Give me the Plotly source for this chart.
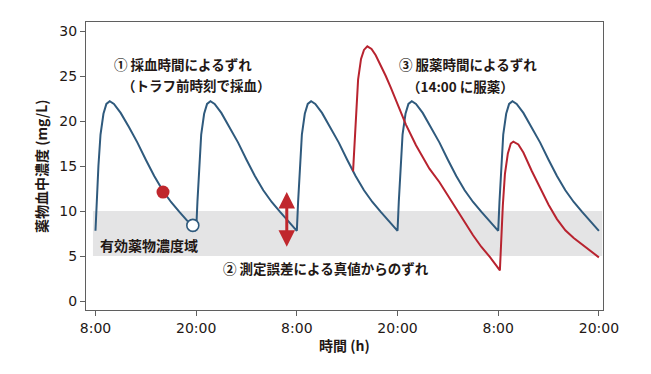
import plotly.graph_objects as go

# ---- data (hours from 8:00 day 1, concentration mg/L) ----
blue_time = [
    0, 0.15, 0.35, 0.6, 0.95, 1.3, 1.7, 2.2, 3, 4, 5, 6, 7, 8, 9, 10, 11,
    12, 12.15, 12.35, 12.6, 12.95, 13.3, 13.7, 14.2, 15, 16, 17, 18, 19, 20, 21, 22, 23,
    24, 24.15, 24.35, 24.6, 24.95, 25.3, 25.7, 26.2, 27, 28, 29, 30, 31, 32, 33, 34, 35,
    36, 36.15, 36.35, 36.6, 36.95, 37.3, 37.7, 38.2, 39, 40, 41, 42, 43, 44, 45, 46, 47,
    48, 48.15, 48.35, 48.6, 48.95, 49.3, 49.7, 50.2, 51, 52, 53, 54, 55, 56, 57, 58, 59, 60,
]
blue_value = [
    7.8, 11.0, 15.0, 18.5, 20.8, 21.9, 22.2, 21.9, 20.9, 19.3, 17.6, 15.7, 13.9, 12.3, 11.0, 9.9, 8.8,
    7.8, 11.0, 15.0, 18.5, 20.8, 21.9, 22.2, 21.9, 20.9, 19.3, 17.6, 15.7, 13.9, 12.3, 11.0, 9.9, 8.8,
    7.8, 11.0, 15.0, 18.5, 20.8, 21.9, 22.2, 21.9, 20.9, 19.3, 17.6, 15.7, 13.9, 12.3, 11.0, 9.9, 8.8,
    7.8, 11.0, 15.0, 18.5, 20.8, 21.9, 22.2, 21.9, 20.9, 19.3, 17.6, 15.7, 13.9, 12.3, 11.0, 9.9, 8.8,
    7.8, 11.0, 15.0, 18.5, 20.8, 21.9, 22.2, 21.9, 20.9, 19.3, 17.6, 15.7, 13.9, 12.3, 11.0, 9.9, 8.8, 7.8,
]

red_time = [
    30.7, 30.85, 31.05, 31.3, 31.65, 32.0, 32.4, 32.9, 33.4, 34.0, 34.6, 35.2, 35.8, 37.0,
    38.2, 39.0, 39.8, 41.0, 42.0, 43.0, 44.0, 45.0, 46.0, 47.0, 48.2,
    48.35, 48.55, 48.8, 49.15, 49.5, 49.8, 50.4, 51.0, 52.0, 53.0, 54.0, 55.0, 56.0,
    57.0, 58.0, 59.0, 60.0,
]
red_value = [
    14.4, 17.3, 21.2, 24.6, 26.9, 27.9, 28.3, 28.0, 27.3, 26.2, 25.0, 23.7, 22.4, 19.6,
    17.3, 16.0, 14.7, 13.2, 11.7, 10.2, 8.8, 7.3, 6.0, 4.9, 3.4,
    6.6, 10.6, 14.1, 16.4, 17.5, 17.7, 17.4, 16.5, 14.45, 12.5, 10.7, 9.1, 7.85,
    7.0, 6.25, 5.55, 4.85,
]

sample_time = [8.05]
sample_value = [12.1]
trough_time = [11.6]
trough_value = [8.4]

band_low, band_high = 5, 10
error_top, error_bottom, error_time = 12.1, 5.85, 22.8

tick_vals = [0, 12, 24, 36, 48, 60]
tick_text = ["8:00", "20:00", "8:00", "20:00", "8:00", "20:00"]

BLUE = "#2f5a7d"
RED = "#b8232f"
TXT = "#231815"
AX = "#5f5f5f"
JP = "Noto Sans CJK JP"

fig = go.Figure()

fig.add_shape(type="rect", xref="x", yref="y", x0=-0.3, x1=60.4, y0=band_low, y1=band_high,
              fillcolor="#e4e4e5", line_width=0, layer="below")

fig.add_trace(go.Scatter(x=blue_time, y=blue_value, mode="lines",
                         line=dict(color=BLUE, width=2), hoverinfo="skip"))
fig.add_trace(go.Scatter(x=red_time, y=red_value, mode="lines",
                         line=dict(color=RED, width=2), hoverinfo="skip"))
fig.add_trace(go.Scatter(x=sample_time, y=sample_value, mode="markers",
                         marker=dict(size=13, color="#c0272d", line=dict(width=0))))
fig.add_trace(go.Scatter(x=trough_time, y=trough_value, mode="markers",
                         marker=dict(size=12, color="white", line=dict(color=BLUE, width=1.6))))

# double-headed arrow
fig.add_annotation(x=error_time, y=error_top, ax=error_time, ay=error_bottom,
                   xref="x", yref="y", axref="x", ayref="y", text="",
                   showarrow=True, arrowhead=2, startarrowhead=2, arrowside="end+start",
                   arrowwidth=3, arrowsize=1.1, startarrowsize=1.1, arrowcolor="#c0272d")

def label(t, x, y, size=13.5):
    fig.add_annotation(x=x, y=y, xref="x", yref="y", text=t, showarrow=False,
                       xanchor="left", yanchor="middle",
                       font=dict(family=JP, size=size, color=TXT, weight=700))

label("① 採血時間によるずれ", 1.97, 26.33)
label("（トラフ前時刻で採血）", 2.92, 24.0)
label("③ 服薬時間によるずれ", 35.97, 26.33)
label("（14:00 に服薬）", 36.89, 23.9)
label("② 測定誤差による真値からのずれ", 14.92, 3.63)
label("有効薬物濃度域", 0.3, 6.26, 14)

fig.add_annotation(x=0, y=0.5, xref="paper", yref="paper", xshift=-45, text="薬物血中濃度 (mg/L)",
                   textangle=-90, showarrow=False, xanchor="center", yanchor="middle",
                   font=dict(family=JP, size=14, color=TXT, weight=700))
fig.add_annotation(x=0.5, y=0, xref="paper", yref="paper", yshift=-35, text="時間 (h)",
                   showarrow=False, xanchor="center", yanchor="middle",
                   font=dict(family=JP, size=14, color=TXT, weight=700))

fig.update_xaxes(range=[-1.13, 60.49], tickvals=tick_vals, ticktext=tick_text,
                 showgrid=False, zeroline=False, showline=True, linecolor=AX, linewidth=1,
                 mirror=True, ticks="outside", ticklen=5, tickcolor=AX,
                 tickfont=dict(family="DejaVu Sans", size=14, color=TXT))
fig.update_yaxes(range=[-1, 31], tickvals=[0, 5, 10, 15, 20, 25, 30],
                 showgrid=False, zeroline=False, showline=True, linecolor=AX, linewidth=1,
                 mirror=True, ticks="outside", ticklen=5, tickcolor=AX,
                 tickfont=dict(family="DejaVu Sans", size=14, color=TXT))

fig.update_layout(width=651, height=374, margin=dict(l=78, r=56, t=14, b=72),
                  paper_bgcolor="white", plot_bgcolor="white", showlegend=False)

fig.write_html("out.html")
